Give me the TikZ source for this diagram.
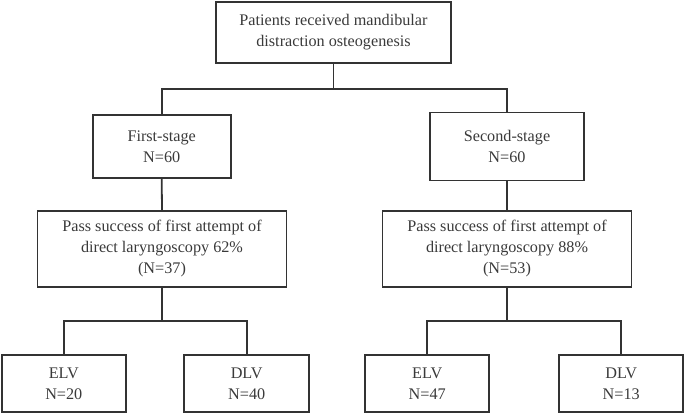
\documentclass[tikz,border=0pt]{standalone}
\usepackage{fontspec}
\setmainfont{Liberation Serif}
\definecolor{linec}{HTML}{333333}
\definecolor{textc}{HTML}{3A3A3A}
\begin{document}
\begin{tikzpicture}[x=1pt,y=1pt,
  box/.style={draw=linec,line width=1.8pt,align=center,text=textc,inner sep=0pt,
    font=\fontsize{16.2}{21}\selectfont},
  conn/.style={draw=linec,line width=1.8pt}]
\useasboundingbox (0,0) rectangle (685,-414);
\node[box,minimum width=235pt,minimum height=61pt] (top) at (333.5,-32.5) {Patients received mandibular\\distraction osteogenesis};
\node[box,minimum width=138pt,minimum height=63pt] (first) at (161.7,-146.5) {First-stage\\N=60};
\node[box,minimum width=154pt,minimum height=68pt] (second) at (507,-146.5) {Second-stage\\N=60};
\node[box,minimum width=249pt,minimum height=76pt] (pass1) at (162,-249) {Pass success of first attempt of\\direct laryngoscopy 62\%\\(N=37)};
\node[box,minimum width=249pt,minimum height=76pt] (pass2) at (507,-249) {Pass success of first attempt of\\direct laryngoscopy 88\%\\(N=53)};
\node[box,minimum width=124pt,minimum height=57pt] (elv1) at (63.8,-383.5) {ELV\\N=20};
\node[box,minimum width=125pt,minimum height=57pt] (dlv1) at (246.7,-383.5) {DLV\\N=40};
\node[box,minimum width=124pt,minimum height=57pt] (elv2) at (427.2,-383.5) {ELV\\N=47};
\node[box,minimum width=124pt,minimum height=57pt] (dlv2) at (621.2,-383.5) {DLV\\N=13};
\coordinate (j1) at (top.south |- 0,-89);
\coordinate (j2) at (pass1.south |- 0,-321);
\coordinate (j3) at (pass2.south |- 0,-321);
\draw[conn] (top.south) -- (j1);
\draw[conn] (first.north) |- (j1) -| (second.north);
\draw[conn] (first.south) -- (pass1.north);
\draw[conn] (second.south) -- (pass2.north);
\draw[conn] (pass1.south) -- (j2);
\draw[conn] (elv1.north) |- (j2) -| (dlv1.north);
\draw[conn] (pass2.south) -- (j3);
\draw[conn] (elv2.north) |- (j3) -| (dlv2.north);
\end{tikzpicture}
\end{document}
